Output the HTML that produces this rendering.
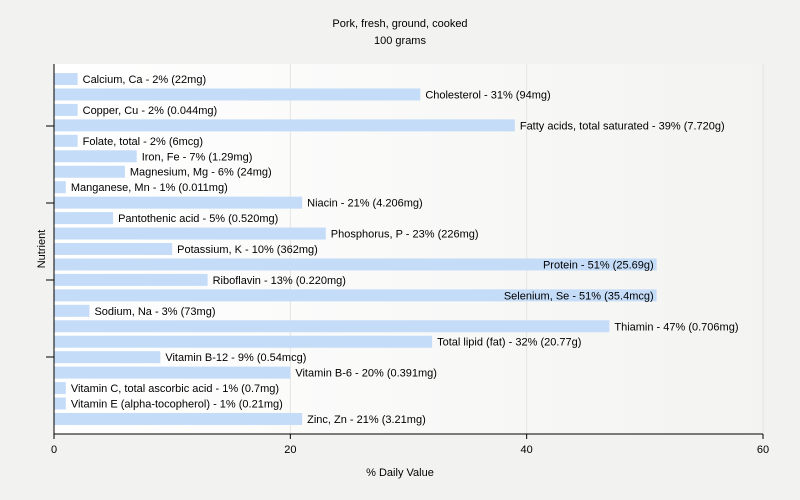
<!DOCTYPE html>
<html><head><meta charset="utf-8"><style>
body{margin:0;background:#f2f2f0;font-family:"Liberation Sans",sans-serif;}
svg{display:block}
text{font-family:"Liberation Sans",sans-serif;font-size:11px;fill:#000}
</style></head><body>
<svg id="chart" width="800" height="500">
<defs><linearGradient id="bg" x1="0" x2="1" y1="0" y2="0"><stop offset="0" stop-color="#ffffff"/><stop offset="1" stop-color="#f3f3f1"/></linearGradient></defs>
<rect x="0" y="0" width="800" height="500" fill="#f2f2f0"/>
<text x="400" y="27" text-anchor="middle" font-size="12">Pork, fresh, ground, cooked</text>
<text x="400" y="44" text-anchor="middle" font-size="12">100 grams</text>
<rect x="54" y="64" width="709" height="370" fill="url(#bg)"/>
<g id="grid"></g><g id="bars"></g><g id="axes"></g>
<text x="400" y="476" text-anchor="middle">% Daily Value</text>
<text transform="translate(45,249) rotate(-90)" text-anchor="middle">Nutrient</text>
</svg>
<script>
const categories=["Calcium, Ca","Cholesterol","Copper, Cu","Fatty acids, total saturated","Folate, total","Iron, Fe","Magnesium, Mg","Manganese, Mn","Niacin","Pantothenic acid","Phosphorus, P","Potassium, K","Protein","Riboflavin","Selenium, Se","Sodium, Na","Thiamin","Total lipid (fat)","Vitamin B-12","Vitamin B-6","Vitamin C, total ascorbic acid","Vitamin E (alpha-tocopherol)","Zinc, Zn"];
const values=[2,31,2,39,2,7,6,1,21,5,23,10,51,13,51,3,47,32,9,20,1,1,21];
const amounts=["22mg","94mg","0.044mg","7.720g","6mcg","1.29mg","24mg","0.011mg","4.206mg","0.520mg","226mg","362mg","25.69g","0.220mg","35.4mcg","73mg","0.706mg","20.77g","0.54mcg","0.391mg","0.7mg","0.21mg","3.21mg"];
const xTicks=[0,20,40,60];
const NS="http://www.w3.org/2000/svg";
const X0=54,X1=763,Y0=64,Y1=434,XMAX=60;
const BY0=71.3,BY1=426.7;
const x=v=>X0+(X1-X0)*v/XMAX;
const step=(BY1-BY0)/categories.length;
const yc=i=>BY0+step*(i+0.5);
function mk(tag,attrs,parent){const e=document.createElementNS(NS,tag);for(const k in attrs)e.setAttribute(k,attrs[k]);parent.appendChild(e);return e;}
const grid=document.getElementById('grid'),bars=document.getElementById('bars'),axes=document.getElementById('axes');
xTicks.forEach(t=>{if(t>0){const g=mk('line',{x1:x(t),x2:x(t),y1:Y0,y2:Y1,stroke:'#e4e4e4'},grid);

}
const tk=mk('line',{x1:x(t),x2:x(t),y1:Y1,y2:Y1+5,stroke:'#000'},axes);


const tl=mk('text',{x:x(t),y:Y1+19,'text-anchor':'middle','font-size':'12'},axes);tl.textContent=t;

});
categories.forEach((c,i)=>{const w=x(values[i])-X0;
const r=mk('rect',{x:X0,y:yc(i)-6,width:w,height:12,fill:'#c5dcf8'},bars);


const label=c+' - '+values[i]+'% ('+amounts[i]+')';
const t=mk('text',{y:yc(i)+4},bars);t.textContent=label;


const len=t.getComputedTextLength();
if(x(values[i])+5+len>X1-5){t.setAttribute('x',x(values[i])-3);t.setAttribute('text-anchor','end');}
else t.setAttribute('x',x(values[i])+5);});
[126,203,280,357].forEach(yy=>{const l=mk('line',{x1:46,x2:X0,y1:yy,y2:yy,stroke:'#000'},axes);

});
const ya=mk('line',{x1:X0,x2:X0,y1:Y0,y2:Y1,stroke:'#000'},axes);


const xa=mk('line',{x1:X0,x2:X1,y1:Y1,y2:Y1,stroke:'#000'},axes);


</script>
</body></html>
